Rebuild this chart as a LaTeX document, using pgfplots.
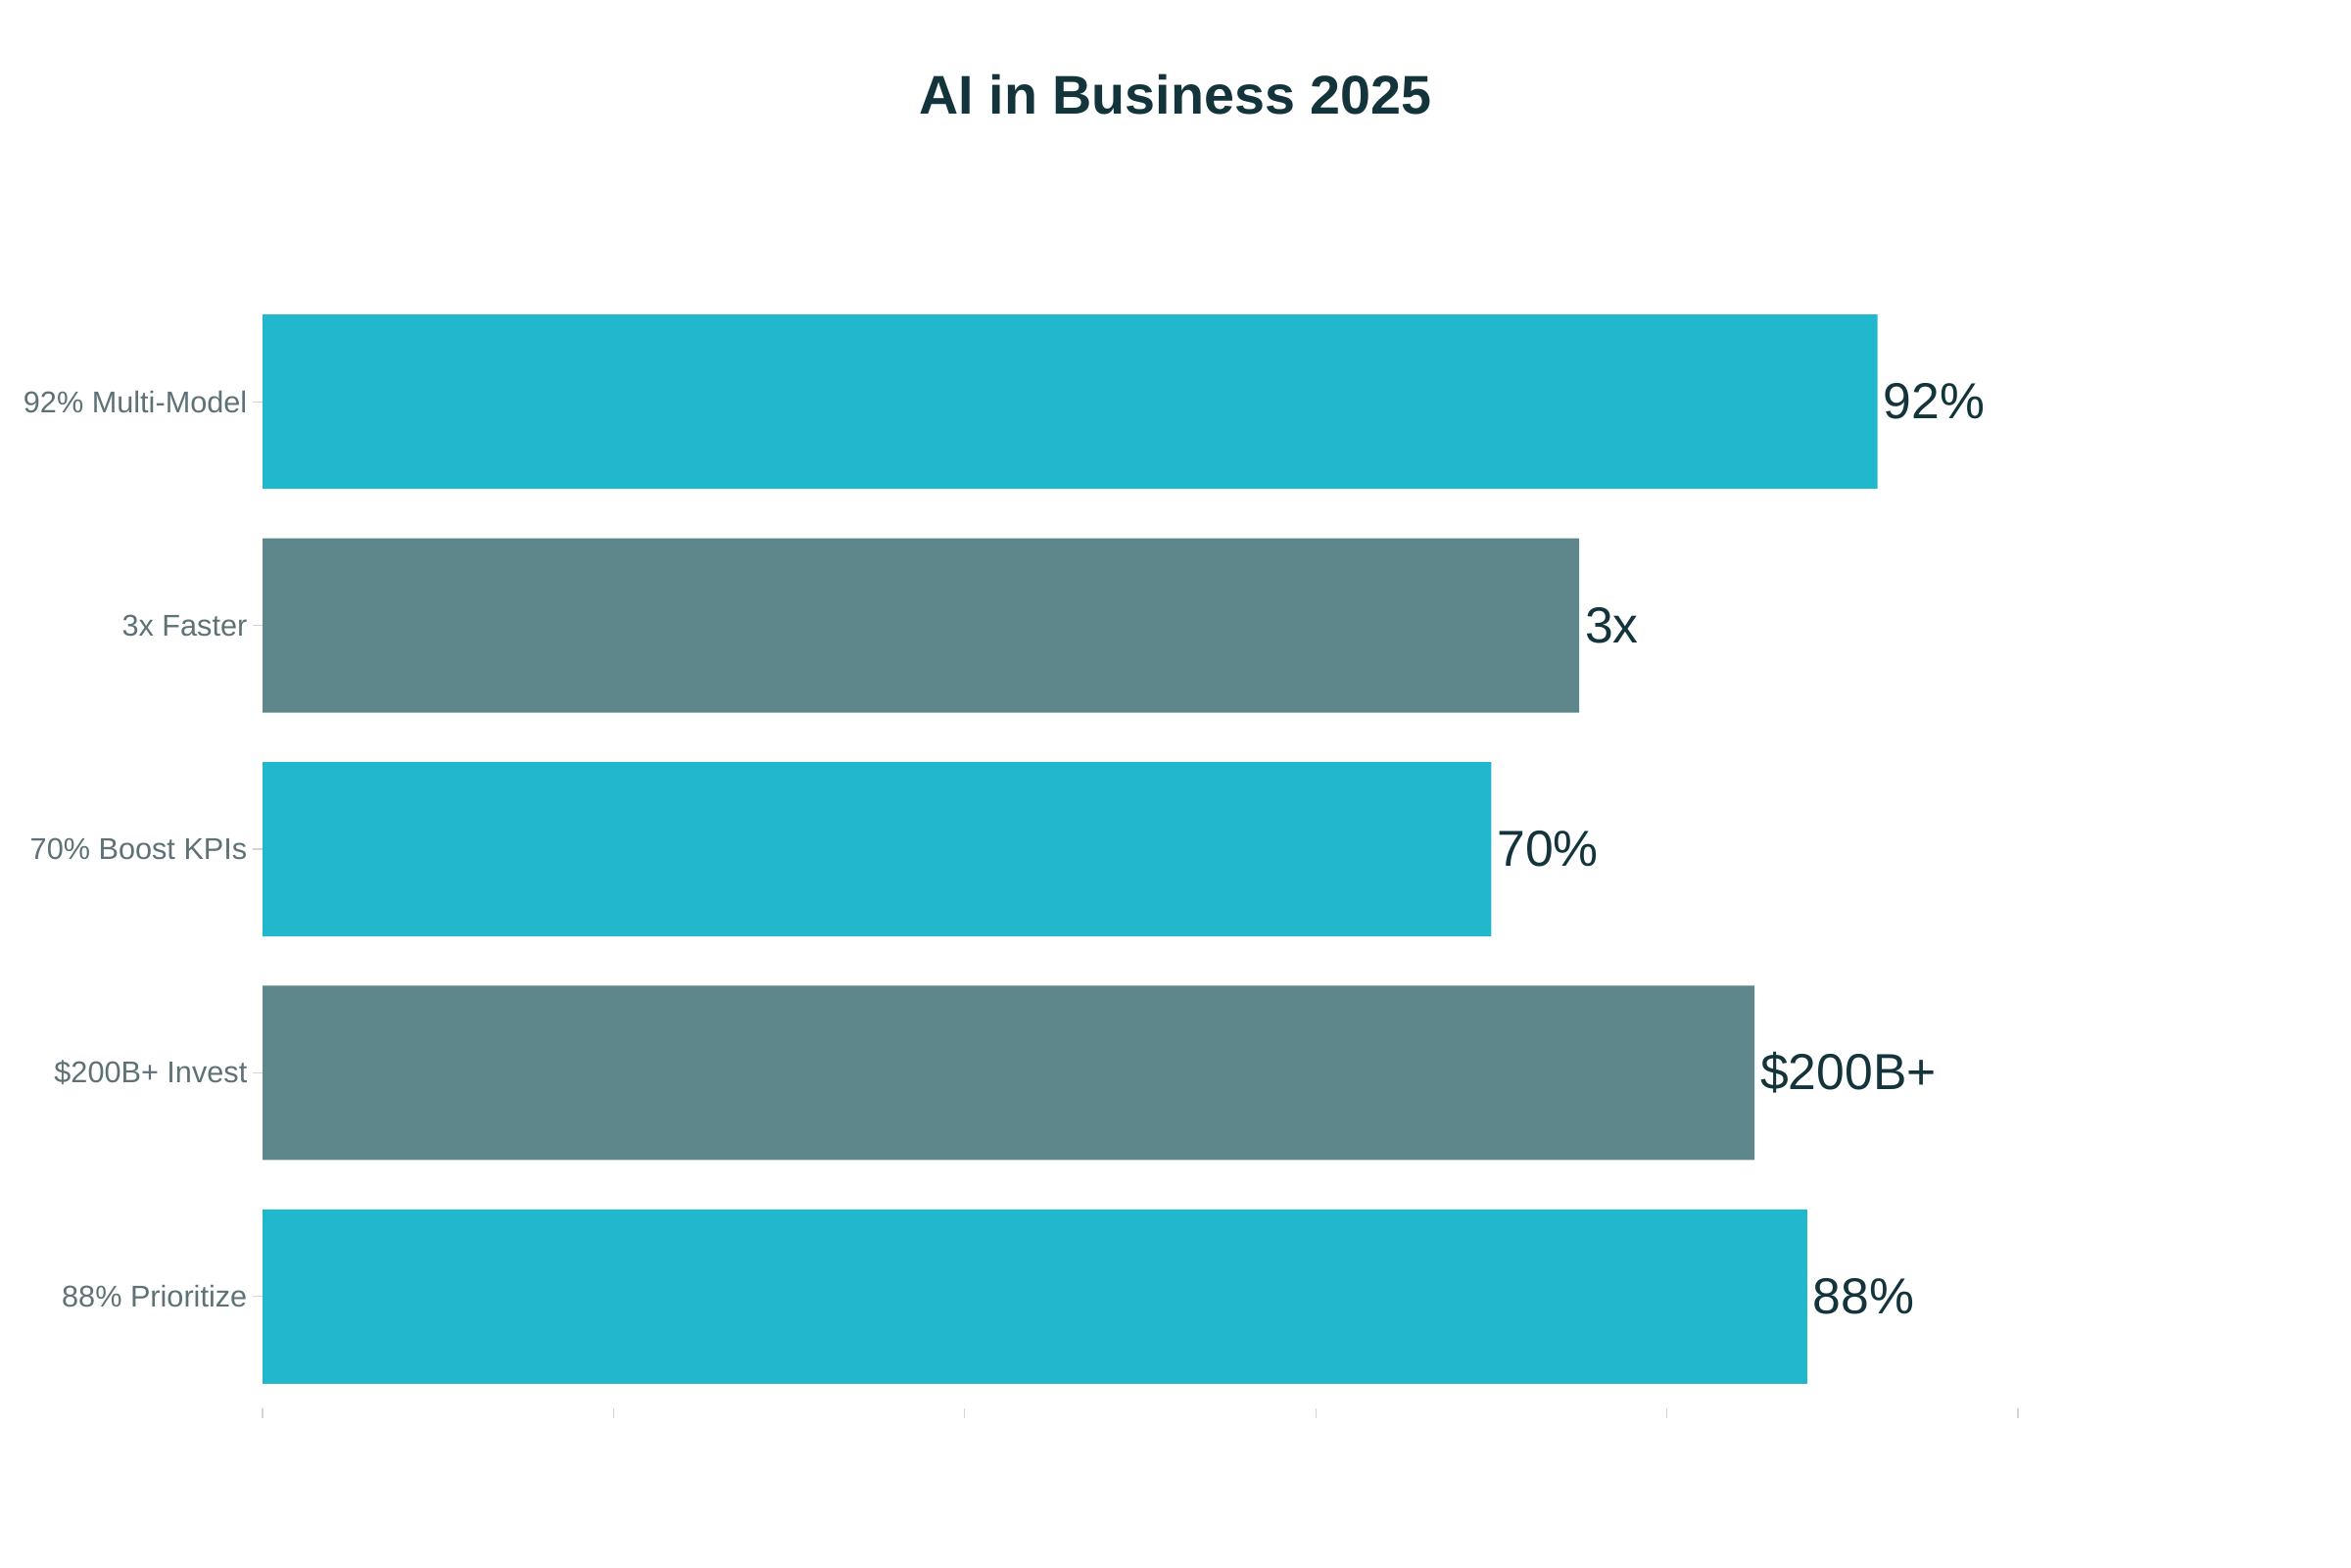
\documentclass[border=0pt]{standalone}
\usepackage{fontspec}
\setmainfont{Liberation Sans}
\usepackage{pgfplots}
\pgfplotsset{compat=1.18}
\definecolor{cyanbar}{HTML}{21B8CD}
\definecolor{tealbar}{HTML}{5E878C}
\definecolor{darktxt}{HTML}{13343B}
\definecolor{labtxt}{HTML}{5D7176}
\definecolor{tickgray}{HTML}{D0D6D8}
\begin{document}
\begin{tikzpicture}
\path[use as bounding box] (0,0) rectangle (720pt,480pt);
\node[font=\fontsize{16.7}{19}\selectfont\bfseries, text=darktxt] at (360pt,451pt) {AI in Business 2025};
\begin{axis}[
  at={(80.4pt,48.6pt)}, anchor=south west,
  scale only axis, width=537.6pt, height=342.6pt,
  xmin=0, xmax=100, ymin=-0.5, ymax=4.5,
  xbar, bar width=53.4pt, bar shift=0pt,
  axis line style={draw=none},
  xtick pos=lower, ytick pos=left,
  xtick={0,20,40,60,80,100}, xticklabels={},
  ytick={0,1,2,3,4},
  yticklabels={88\% Prioritize,\$200B+ Invest,70\% Boost KPIs,3x Faster,92\% Multi-Model},
  tick align=outside, major tick length=3pt,
  tick style={draw=tickgray, line width=0.4pt},
  y tick label style={font=\fontsize{9.2}{11}\selectfont, text=labtxt, inner sep=1.5pt},
  clip=false,
  nodes near coords, point meta=explicit symbolic,
  every node near coord/.append style={font=\fontsize{15.5}{17}\selectfont, text=darktxt, anchor=west, inner sep=1.6pt},
]
\addplot[fill=cyanbar, draw=none] coordinates {(88,0) [88\%] (70,2) [70\%] (92,4) [92\%]};
\addplot[fill=tealbar, draw=none] coordinates {(85,1) [\$200B+] (75,3) [3x]};
\end{axis}
\end{tikzpicture}
\end{document}
